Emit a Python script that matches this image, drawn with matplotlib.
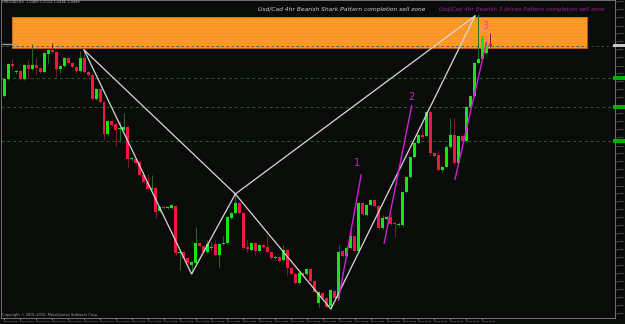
import matplotlib
matplotlib.use('Agg')
import matplotlib.pyplot as plt
import matplotlib.patches as mpatches
from matplotlib.ticker import MultipleLocator, FormatStrFormatter
import numpy as np
import pandas as pd

# H4 bars, index -1 .. 122 (first bar is half cut by the left border)
opens = [1.0420, 1.0388, 1.0422, 1.0452, 1.0436, 1.0438, 1.0422, 1.0450, 1.0442, 1.0450,
         1.0444, 1.0436, 1.0472, 1.0480, 1.0476, 1.0442, 1.0448, 1.0464, 1.0454, 1.0446,
         1.0438, 1.0464, 1.0436, 1.0430, 1.0382, 1.0402, 1.0376, 1.0312, 1.0338, 1.0332,
         1.0322, 1.0320, 1.0326, 1.0262, 1.0262, 1.0256, 1.0230, 1.0216, 1.0202, 1.0204,
         1.0158, 1.0166, 1.0164, 1.0164, 1.0168, 1.0074, 1.0076, 1.0064, 1.0050, 1.0054,
         1.0094, 1.0088, 1.0076, 1.0084, 1.0092, 1.0070, 1.0092, 1.0094, 1.0144, 1.0154,
         1.0174, 1.0154, 1.0086, 1.0080, 1.0094, 1.0078, 1.0090, 1.0086, 1.0076, 1.0064,
         1.0066, 1.0060, 1.0080, 1.0044, 1.0032, 1.0014, 1.0034, 1.0032, 1.0042, 1.0018,
         0.9974, 0.9994, 0.9984, 0.9968, 0.9998, 0.9984, 1.0078, 1.0068, 1.0084, 1.0108,
         1.0078, 1.0174, 1.0150, 1.0170, 1.0180, 1.0168, 1.0124, 1.0142, 1.0146, 1.0134,
         1.0130, 1.0130, 1.0196, 1.0226, 1.0266, 1.0294, 1.0310, 1.0308, 1.0356, 1.0274,
         1.0270, 1.0240, 1.0246, 1.0286, 1.0310, 1.0254, 1.0308, 1.0298, 1.0366, 1.0388,
         1.0454, 1.0462, 1.0474, 1.0492]
highs = [1.0424, 1.0424, 1.0454, 1.0462, 1.0440, 1.0440, 1.0452, 1.0460, 1.0492, 1.0464,
         1.0446, 1.0476, 1.0482, 1.0494, 1.0478, 1.0450, 1.0466, 1.0466, 1.0456, 1.0448,
         1.0478, 1.0480, 1.0438, 1.0432, 1.0404, 1.0404, 1.0378, 1.0340, 1.0340, 1.0334,
         1.0336, 1.0354, 1.0328, 1.0266, 1.0264, 1.0258, 1.0232, 1.0232, 1.0230, 1.0206,
         1.0168, 1.0170, 1.0168, 1.0172, 1.0170, 1.0078, 1.0078, 1.0066, 1.0058, 1.0126,
         1.0096, 1.0090, 1.0100, 1.0096, 1.0100, 1.0094, 1.0108, 1.0148, 1.0156, 1.0192,
         1.0176, 1.0156, 1.0102, 1.0096, 1.0096, 1.0092, 1.0092, 1.0110, 1.0078, 1.0068,
         1.0068, 1.0090, 1.0082, 1.0046, 1.0034, 1.0038, 1.0036, 1.0044, 1.0044, 1.0020,
         0.9998, 0.9996, 0.9986, 1.0002, 1.0000, 1.0090, 1.0080, 1.0088, 1.0120, 1.0110,
         1.0176, 1.0176, 1.0172, 1.0182, 1.0182, 1.0170, 1.0150, 1.0148, 1.0152, 1.0138,
         1.0136, 1.0198, 1.0228, 1.0268, 1.0296, 1.0312, 1.0328, 1.0358, 1.0358, 1.0276,
         1.0280, 1.0248, 1.0290, 1.0344, 1.0344, 1.0280, 1.0312, 1.0368, 1.0390, 1.0456,
         1.0552, 1.0508, 1.0494, 1.0514]
lows = [1.0386, 1.0386, 1.0420, 1.0442, 1.0432, 1.0420, 1.0420, 1.0424, 1.0440, 1.0430,
        1.0434, 1.0434, 1.0454, 1.0474, 1.0426, 1.0434, 1.0446, 1.0452, 1.0444, 1.0434,
        1.0436, 1.0434, 1.0428, 1.0380, 1.0380, 1.0374, 1.0300, 1.0310, 1.0328, 1.0288,
        1.0296, 1.0318, 1.0244, 1.0260, 1.0252, 1.0228, 1.0214, 1.0200, 1.0198, 1.0144,
        1.0154, 1.0162, 1.0162, 1.0162, 1.0070, 1.0040, 1.0062, 1.0052, 1.0032, 1.0052,
        1.0086, 1.0074, 1.0074, 1.0080, 1.0068, 1.0046, 1.0090, 1.0092, 1.0142, 1.0152,
        1.0152, 1.0080, 1.0076, 1.0078, 1.0070, 1.0076, 1.0084, 1.0074, 1.0062, 1.0062,
        1.0056, 1.0058, 1.0028, 1.0030, 1.0012, 1.0012, 1.0028, 1.0030, 1.0016, 0.9994,
        0.9966, 0.9982, 0.9964, 0.9962, 0.9982, 0.9982, 1.0066, 1.0066, 1.0082, 1.0076,
        1.0076, 1.0150, 1.0148, 1.0168, 1.0166, 1.0122, 1.0122, 1.0140, 1.0130, 1.0106,
        1.0128, 1.0128, 1.0194, 1.0224, 1.0264, 1.0292, 1.0304, 1.0306, 1.0268, 1.0266,
        1.0238, 1.0236, 1.0244, 1.0284, 1.0252, 1.0252, 1.0296, 1.0296, 1.0364, 1.0386,
        1.0452, 1.0460, 1.0472, 1.0486]
closes = [1.0390, 1.0422, 1.0452, 1.0448, 1.0438, 1.0422, 1.0450, 1.0442, 1.0450, 1.0444,
          1.0436, 1.0474, 1.0480, 1.0476, 1.0442, 1.0448, 1.0464, 1.0454, 1.0446, 1.0438,
          1.0464, 1.0436, 1.0430, 1.0382, 1.0402, 1.0376, 1.0312, 1.0338, 1.0330, 1.0320,
          1.0324, 1.0326, 1.0262, 1.0264, 1.0254, 1.0230, 1.0216, 1.0202, 1.0204, 1.0156,
          1.0166, 1.0164, 1.0166, 1.0170, 1.0074, 1.0076, 1.0064, 1.0054, 1.0056, 1.0094,
          1.0088, 1.0076, 1.0092, 1.0086, 1.0070, 1.0092, 1.0094, 1.0146, 1.0154, 1.0174,
          1.0154, 1.0084, 1.0082, 1.0094, 1.0078, 1.0090, 1.0086, 1.0076, 1.0064, 1.0066,
          1.0058, 1.0080, 1.0044, 1.0032, 1.0014, 1.0034, 1.0030, 1.0042, 1.0018, 0.9996,
          0.9996, 0.9984, 0.9966, 1.0000, 0.9984, 1.0076, 1.0068, 1.0084, 1.0108, 1.0078,
          1.0174, 1.0152, 1.0170, 1.0180, 1.0168, 1.0124, 1.0144, 1.0146, 1.0132, 1.0132,
          1.0132, 1.0196, 1.0226, 1.0266, 1.0294, 1.0310, 1.0306, 1.0356, 1.0274, 1.0268,
          1.0240, 1.0246, 1.0286, 1.0310, 1.0254, 1.0308, 1.0298, 1.0366, 1.0388, 1.0454,
          1.0462, 1.0506, 1.0490, 1.0488]

# shark pattern points X, A, B, C, D (bar index, price)
pattern_idx = [20, 47, 58, 82, 118.2]
pattern_px = [1.0480, 1.0032, 1.0192, 0.9962, 1.0548]

# three drives legs
drive_x0 = [83.9, 95.4, 113.2]
drive_x1 = [89.6, 102.3, 121.1]
drive_y0 = [0.9980, 1.0094, 1.0222]
drive_y1 = [1.0230, 1.0368, 1.0496]
drive_labels = ['1', '2', '3']
drive_lx = [88.5, 102.3, 120.9]
drive_ly = [1.0255, 1.0387, 1.0528]

zone_x = [1.9, 146.4]
zone_y = [1.0484, 1.0546]
levels = [1.0424, 1.0366, 1.0298]
bid = 1.0489

bar_times = pd.date_range('2010-06-24 00:00', periods=220, freq='4h')
bar_times = bar_times[bar_times.dayofweek < 5][:len(opens)]
tick_idx = list(range(0, len(opens) - 1, 4))
date_labels = [bar_times[i + 1].strftime('%d %b %Y') if i == 0
               else bar_times[i + 1].strftime('%d %b %H:%M') for i in tick_idx]

BG = '#0a0c0a'
UP, DOWN = '#14e614', '#f5163f'
UP_WICK, DOWN_WICK = '#1f6e1f', '#74202c'

fig = plt.figure(figsize=(6.25, 3.24), dpi=100)
fig.patch.set_facecolor(BG)
ax = fig.add_axes([1 / 625, 6 / 324, 614 / 625, 318 / 324])
ax.set_facecolor(BG)

x = np.arange(-1, len(opens) - 1)
o = np.array(opens)
h = np.array(highs)
l = np.array(lows)
c = np.array(closes)
up = c >= o

# sell zone
zw = zone_x[1] - zone_x[0]
zh = zone_y[1] - zone_y[0]
ax.add_patch(mpatches.Rectangle((zone_x[0], zone_y[0]), zw, zh,
                                facecolor='#fd9a20', edgecolor='none', zorder=0))
plt.rcParams['hatch.linewidth'] = 0.35
ax.add_patch(mpatches.Rectangle((zone_x[0], zone_y[0]), zw, zh, facecolor='none',
                                edgecolor='#ee7d66', hatch='.....', lw=0, zorder=0.5))
ax.add_patch(mpatches.Rectangle((zone_x[0], zone_y[0]), zw, zh, facecolor='none',
                                edgecolor='#d86a10', lw=0.6, zorder=0.6))

# horizontal levels
for lv in levels:
    ax.axhline(lv, color='#1c6a1c', lw=0.7, ls=(0, (3, 3)), zorder=1)
ax.axhline(bid, color='#3a5a44', lw=0.6, ls=(0, (3, 3)), zorder=1)
ax.plot([-0.6, 3.1], [1.0493, 1.0493], color='#9a9a9a', lw=1.0, zorder=1,
        solid_capstyle='butt')

# candles
ax.vlines(x, l, h, colors=np.where(up, UP_WICK, DOWN_WICK), lw=0.7, zorder=2)
body_lo = np.minimum(o, c)
body_h = np.maximum(np.abs(c - o), 0.00025)
ax.bar(x, body_h, bottom=body_lo, width=0.75, color=np.where(up, UP, DOWN),
       lw=0, zorder=3)

# shark pattern
wc = '#d8d8d8'
ax.plot(pattern_idx, pattern_px, color=wc, lw=0.9, zorder=5)
ax.plot([pattern_idx[0], pattern_idx[2]], [pattern_px[0], pattern_px[2]], color=wc, lw=0.9, zorder=5)
ax.plot([pattern_idx[2], pattern_idx[4]], [pattern_px[2], pattern_px[4]], color=wc, lw=0.9, zorder=5)

# three drives
for i in range(3):
    ax.plot([drive_x0[i], drive_x1[i]], [drive_y0[i], drive_y1[i]],
            color='#d21fd2', lw=1.0, zorder=6)
    ax.text(drive_lx[i], drive_ly[i], drive_labels[i], ha='center', va='center',
            fontsize=7, color='#ff3aa0' if i == 2 else '#c42ac4', zorder=7)

ax.set_xlim(-0.879, 153.39)
ax.set_ylim(0.9944, 1.0580)

# axes styling
for s in ax.spines.values():
    s.set_color('#808080')
    s.set_linewidth(0.6)
ax.yaxis.tick_right()
ax.yaxis.set_major_locator(MultipleLocator(0.0016))
ax.yaxis.set_major_formatter(FormatStrFormatter('%.4f'))
ax.tick_params(axis='y', labelsize=1.6, colors='#bdbdbd', length=1.0, width=0.4, pad=0.3)
ax.set_xticks(tick_idx)
ax.set_xticklabels(date_labels, ha='left')
ax.tick_params(axis='x', labelsize=1.6, colors='#bdbdbd', length=1.2, width=0.4, pad=0.8)

# price labels on the scale
ytr = ax.get_yaxis_transform()
for lv in levels:
    ax.add_patch(mpatches.Rectangle((0.9967, lv - 0.00034), 0.02, 0.00068, transform=ytr,
                                    facecolor='#00b000', edgecolor='none', clip_on=False, zorder=8))
ax.add_patch(mpatches.Rectangle((0.9967, bid - 0.00034), 0.02, 0.00068, transform=ytr,
                                facecolor='#c8c8c8', edgecolor='none', clip_on=False, zorder=8))

# header and captions
fig.text(2 / 625, 1 - 2 / 324, 'USDCAD,H4  1.0489 1.0514 1.0486 1.0488', fontsize=2.6,
         color='#b0b0b0', va='center', ha='left')
ax.text(0.002, 0.004, 'Copyright \u00a9 2001-2010, MetaQuotes Software Corp.',
        transform=ax.transAxes, fontsize=2.6, color='#a0a0a0', va='bottom', ha='left')
fig.text(258 / 625, 1 - 10 / 324, 'Usd/Cad 4hr Bearish Shark Pattern completion sell zone',
         fontsize=4.3, style='italic', color='#cfcfcf', va='center', ha='left')
fig.text(439 / 625, 1 - 10 / 324, 'Usd/Cad 4hr Bearish 3 drives Pattern completion sell zone',
         fontsize=4.05, style='italic', color='#a01ea0', va='center', ha='left')

fig.savefig('out.png', dpi=100, facecolor=fig.get_facecolor())
